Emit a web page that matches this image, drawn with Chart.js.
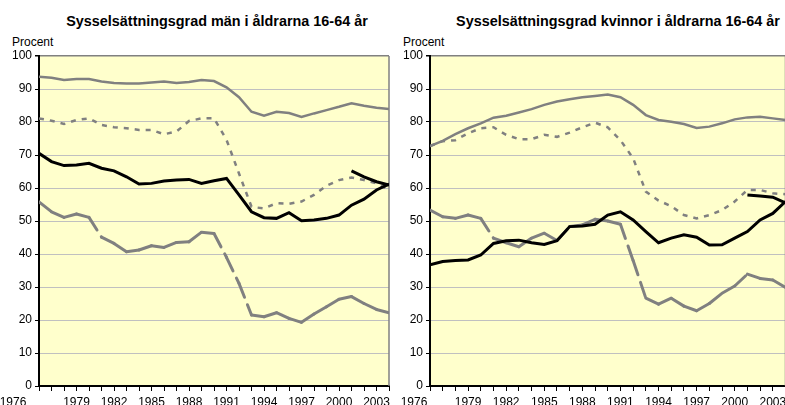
<!DOCTYPE html>
<html>
<head>
<meta charset="utf-8">
<script src="https://cdn.jsdelivr.net/npm/chart.js@4/dist/chart.umd.min.js"></script>
<style>
html, body { margin: 0; padding: 0; background: #fff; overflow: hidden; }
body { width: 785px; height: 405px; position: relative; font-family: "Liberation Sans", Arial, sans-serif; color: #000; }
.panel { position: absolute; top: 0; width: 400px; height: 405px; overflow: hidden; }
.title { position: absolute; top: 13px; font-weight: bold; font-size: 14.4px; line-height: 16px; white-space: nowrap; transform: translateX(-50%); }
.unit { position: absolute; top: 35px; font-size: 12px; line-height: 14px; }
</style>
</head>
<body>
<div class="title" style="left:217px">Sysselsättningsgrad män i åldrarna 16-64 år</div>
<div class="title" style="left:618px">Sysselsättningsgrad kvinnor i åldrarna 16-64 år</div>
<div class="unit" style="left:12px">Procent</div>
<div class="unit" style="left:403px">Procent</div>
<div class="panel" style="left:0"><canvas id="men" width="400" height="405"></canvas></div>
<div class="panel" style="left:400px"><canvas id="women" width="400" height="405"></canvas></div>
<script>
const years = [1976, 1977, 1978, 1979, 1980, 1981, 1982, 1983, 1984, 1985, 1986, 1987, 1988, 1989, 1990,
	1991, 1992, 1993, 1994, 1995, 1996, 1997, 1998, 1999, 2000, 2001, 2002, 2003, 2004];
const tickYears = [1976, 1979, 1982, 1985, 1988, 1991, 1994, 1997, 2000, 2003];

// män
const menSeries1 = [93.7, 93.4, 92.7, 93, 93, 92.3, 91.8, 91.7, 91.7, 92, 92.3, 91.8, 92.1, 92.7, 92.4,
	90.5, 87.5, 83.1, 81.9, 83.1, 82.7, 81.5, 82.6, 83.6, 84.6, 85.7, 84.9, 84.3, 83.9];
const menSeries2 = [81.1, 80.4, 79.4, 80.6, 81.1, 79.1, 78.4, 78.1, 77.6, 77.6, 76.3, 77.1, 80.3, 81.1, 81.1,
	74.6, 64.4, 54.3, 53.8, 55.4, 55.2, 55.9, 57.9, 60.7, 62.4, 63.2, 62.4, 61.4, 59.4];
const menSeries3 = [70.5, 68, 66.8, 67, 67.5, 66, 65.2, 63.4, 61.2, 61.4, 62.1, 62.4, 62.6, 61.4, 62.2,
	62.9, 57.9, 52.8, 51, 50.8, 52.5, 50.1, 50.3, 50.8, 51.8, 54.8, 56.6, 59.4, 61.2];
const menSeries4 = [55.8, 52.8, 51.1, 52.1, 51.1, 45.1, 43.2, 40.7, 41.2, 42.5, 42, 43.5, 43.7, 46.6, 46.2,
	39, 31.1, 21.5, 21, 22.2, 20.5, 19.3, 21.8, 24, 26.3, 27.1, 25, 23.2, 22.2];
const menSeries5 = [null, null, null, null, null, null, null, null, null, null, null, null, null, null, null,
	null, null, null, null, null, null, null, null, null, null, 65.2, 63.4, 61.9, 60.9];

// kvinnor
const womenSeries1 = [72.7, 74.3, 76.3, 78.1, 79.6, 81.3, 81.9, 82.9, 83.9, 85.2, 86.2, 86.9, 87.5, 87.9, 88.3,
	87.5, 85.2, 82.1, 80.6, 80.1, 79.4, 78.2, 78.6, 79.6, 80.8, 81.4, 81.6, 81.1, 80.6];
const womenSeries2 = [72.7, 74.2, 74.5, 76.6, 78.1, 78.4, 76.1, 74.8, 74.8, 76.1, 75.5, 76.8, 78.4, 79.8, 78.4,
	74.5, 69, 58.9, 56.2, 54.5, 51.8, 50.8, 51.8, 53.3, 55.9, 59.4, 59.4, 58.4, 58.1];
const womenSeries3 = [36.7, 37.7, 38, 38.2, 39.7, 43.2, 44, 44.2, 43.4, 42.9, 44, 48.3, 48.5, 49, 51.8,
	52.8, 50.3, 46.8, 43.4, 44.8, 45.8, 45.1, 42.7, 42.8, 44.8, 46.8, 50.3, 52.3, 55.9];
const womenSeries4 = [53.3, 51.3, 50.8, 51.8, 50.8, 44.8, 43.4, 42.2, 44.8, 46.3, 44.1, 48.3, 48.8, 50.5, 50,
	49, 38, 26.6, 24.8, 26.6, 24.2, 22.8, 25, 28.1, 30.3, 33.9, 32.6, 32.1, 29.9];
const womenSeries5 = [null, null, null, null, null, null, null, null, null, null, null, null, null, null, null,
	null, null, null, null, null, null, null, null, null, null, 57.9, 57.6, 57.2, 55.5];

const GREY = '#808080';
const FONT = { family: '"Liberation Sans", Arial, sans-serif', size: 12 };

const toPoints = (vals) => years.map((yr, i) => ({ x: yr, y: vals[i] }));

// background + right frame of the plot area
const plotFrame = {
	id: 'plotFrame',
	beforeDraw(chart) {
		const { ctx, chartArea: a } = chart;
		ctx.save();
		ctx.fillStyle = '#ffffcc';
		ctx.fillRect(a.left, a.top, a.right - a.left, a.bottom - a.top);
		ctx.restore();
	},
	beforeDatasetsDraw(chart) {
		const { ctx, chartArea: a } = chart;
		ctx.save();
		ctx.strokeStyle = GREY;
		ctx.lineWidth = 1.5;
		ctx.beginPath();
		ctx.moveTo(a.right, a.top);
		ctx.lineTo(a.right, a.bottom);
		ctx.stroke();
		ctx.restore();
	}
};

// the first year label sits left of its tick in the original
const firstLabelShift = {
	id: 'firstLabelShift',
	beforeDraw(chart, args, opts) {
		const items = chart.scales.x.getLabelItems();
		if (items.length && !items._shifted) {
			items[0].options.translation[0] += opts.dx || 0;
			items._shifted = true;
		}
	}
};

const lineDs = (vals, extra) => Object.assign({
	data: toPoints(vals),
	borderColor: GREY,
	borderWidth: 2.5,
	pointRadius: 0,
	tension: 0,
	fill: false,
	spanGaps: false
}, extra);

const createChart = (canvas, series, { yWidth, padRight, shift }) => new Chart(canvas, {
	type: 'line',
	data: {
		datasets: [
			lineDs(series[2], { borderColor: '#000', borderWidth: 3 }),
			lineDs(series[4], { borderColor: '#000', borderWidth: 3 }),
			lineDs(series[0], {}),
			lineDs(series[1], { borderDash: [5, 6] }),
			// long dash, pattern restarts at every point
			lineDs(series[3], {
				borderWidth: 3,
				borderDash: [15, 8],
				borderCapStyle: 'round',
				segment: { borderDashOffset: (c) => (c.p0DataIndex % 2) * 0.001 }
			})
		]
	},
	options: {
		responsive: false,
		animation: false,
		layout: { padding: { top: 56, right: padRight, left: 0, bottom: 0 } },
		plugins: {
			legend: { display: false },
			tooltip: { enabled: false },
			firstLabelShift: { dx: shift }
		},
		scales: {
			x: {
				type: 'linear',
				min: 1976,
				max: 2004,
				afterFit: (s) => { s.height = 19; },
				ticks: {
					stepSize: 1,
					autoSkip: false,
					maxRotation: 0,
					padding: 4,
					color: '#000',
					font: FONT,
					callback: (v) => tickYears.includes(v) ? String(v) : ''
				},
				grid: { drawOnChartArea: false, tickLength: 5, tickColor: '#000', tickWidth: 1 },
				border: { display: true, color: '#000', width: 2 }
			},
			y: {
				min: 0,
				max: 100,
				afterFit: (s) => { s.width = yWidth; },
				ticks: { stepSize: 10, padding: 3, color: '#000', font: FONT },
				grid: {
					color: (c) => c.tick.value === 0 ? 'rgba(0,0,0,0)' : (c.tick.value === 100 ? GREY : '#c0c0c0'),
					lineWidth: (c) => c.tick.value === 100 ? 1.5 : 1,
					tickColor: '#000',
					tickLength: 4
				},
				border: { display: true, color: '#000', width: 2 }
			}
		}
	},
	plugins: [plotFrame, firstLabelShift]
});

createChart(document.getElementById('men'),
	[menSeries1, menSeries2, menSeries3, menSeries4, menSeries5],
	{ yWidth: 39, padRight: 11, shift: -26 });
createChart(document.getElementById('women'),
	[womenSeries1, womenSeries2, womenSeries3, womenSeries4, womenSeries5],
	{ yWidth: 30, padRight: 14.5, shift: -16 });
</script>
</body>
</html>
